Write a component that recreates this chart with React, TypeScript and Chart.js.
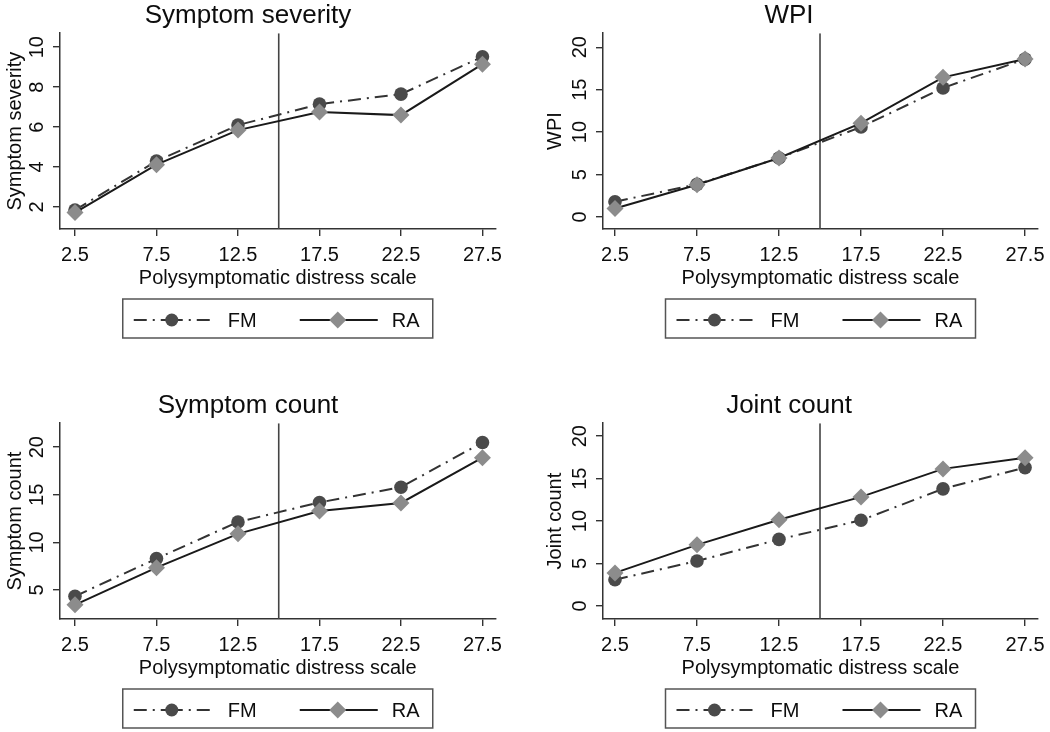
import { useEffect, useRef } from "react";
import { Chart, registerables } from "chart.js";

Chart.register(...registerables);

// x positions: midpoints of the polysymptomatic distress scale bins
const pdsMidpoints = [2.5, 7.5, 12.5, 17.5, 22.5, 27.5];
const cutoff = 15;
const groupLabels = ["FM", "RA"];

const severityFM = [1.85, 4.3, 6.1, 7.15, 7.65, 9.52];
const severityRA = [1.72, 4.12, 5.85, 6.75, 6.6, 9.15];
const wpiFM = [1.8, 3.85, 6.95, 10.6, 15.2, 18.6];
const wpiRA = [1.0, 3.8, 6.95, 11.05, 16.45, 18.6];
const symptomCountFM = [4.35, 8.3, 12.15, 14.2, 15.8, 20.5];
const symptomCountRA = [3.45, 7.35, 10.9, 13.3, 14.15, 18.9];
const jointCountFM = [3.1, 5.3, 7.85, 10.1, 13.8, 16.3];
const jointCountRA = [3.9, 7.2, 10.15, 12.85, 16.15, 17.45];

const severityTicks = [2, 4, 6, 8, 10];
const wpiTicks = [0, 5, 10, 15, 20];
const symptomCountTicks = [5, 10, 15, 20];
const jointCountTicks = [0, 5, 10, 15, 20];

const FONT = '"Liberation Sans", Arial, Helvetica, sans-serif';
const TEXT = "#0d0d0d";
const AXIS = "#333";
const FM_DASH = [13, 6, 2, 6];

const legendBox = {
    id: "legendBox",
    afterDraw(chart: any) {
        const { ctx, chartArea } = chart;
        const cx = (chartArea.left + chartArea.right) / 2;
        const top = chartArea.bottom + 70;
        const ly = top + 21;
        ctx.save();
        ctx.strokeStyle = "#555";
        ctx.lineWidth = 1.5;
        ctx.strokeRect(cx - 155, top, 310, 39);

        // FM entry: dash-dot line drawn outwards from the marker so it is symmetric
        ctx.strokeStyle = AXIS;
        ctx.lineWidth = 2;
        ctx.setLineDash(FM_DASH);
        ctx.lineDashOffset = 2;
        ctx.beginPath();
        ctx.moveTo(cx - 106, ly);
        ctx.lineTo(cx - 146, ly);
        ctx.stroke();
        ctx.beginPath();
        ctx.moveTo(cx - 106, ly);
        ctx.lineTo(cx - 66, ly);
        ctx.stroke();
        ctx.setLineDash([]);
        ctx.fillStyle = "#4a4a4a";
        ctx.beginPath();
        ctx.arc(cx - 106, ly, 6.5, 0, Math.PI * 2);
        ctx.fill();

        // RA entry
        ctx.strokeStyle = "#1a1a1a";
        ctx.beginPath();
        ctx.moveTo(cx + 22, ly);
        ctx.lineTo(cx + 100, ly);
        ctx.stroke();
        ctx.fillStyle = "#8c8c8c";
        ctx.beginPath();
        ctx.moveTo(cx + 60, ly - 8.5);
        ctx.lineTo(cx + 68.5, ly);
        ctx.lineTo(cx + 60, ly + 8.5);
        ctx.lineTo(cx + 51.5, ly);
        ctx.closePath();
        ctx.fill();

        ctx.fillStyle = TEXT;
        ctx.font = `20px ${FONT}`;
        ctx.textAlign = "left";
        ctx.textBaseline = "middle";
        ctx.fillText(groupLabels[0], cx - 50, ly + 1);
        ctx.fillText(groupLabels[1], cx + 114, ly + 1);
        ctx.restore();
    },
};

interface PanelProps {
    title: string;
    yTitle: string;
    fm: number[];
    ra: number[];
    yTicks: number[];
    yMin: number;
    yMax: number;
    xMin: number;
    xMax: number;
    left: number;
    top: number;
    width: number;
    padLeft: number;
    padRight: number;
    yAxisWidth: number;
}

const Panel = (p: PanelProps) => {
    const chartRef = useRef<HTMLCanvasElement>(null);

    useEffect(() => {
        if (!chartRef.current) return;
        const font = { family: FONT, size: 20 };
        const chart = new Chart(chartRef.current, {
            type: "line",
            data: {
                datasets: [
                    {
                        label: groupLabels[1],
                        data: pdsMidpoints.map((x, i) => ({ x, y: p.ra[i] })),
                        borderColor: "#1a1a1a",
                        borderWidth: 2,
                        pointStyle: "rectRot",
                        pointRadius: 8.5,
                        pointBackgroundColor: "#8c8c8c",
                        pointBorderColor: "#8c8c8c",
                        pointBorderWidth: 0,
                        order: 0,
                    },
                    {
                        label: groupLabels[0],
                        data: pdsMidpoints.map((x, i) => ({ x, y: p.fm[i] })),
                        borderColor: AXIS,
                        borderWidth: 2,
                        borderDash: FM_DASH,
                        pointStyle: "circle",
                        pointRadius: 6.8,
                        pointBackgroundColor: "#4a4a4a",
                        pointBorderColor: "#4a4a4a",
                        pointBorderWidth: 0,
                        order: 1,
                    },
                    {
                        label: "cutoff",
                        data: [
                            { x: cutoff, y: p.yMin },
                            { x: cutoff, y: p.yMax },
                        ],
                        borderColor: "#444",
                        borderWidth: 1.6,
                        pointRadius: 0,
                        order: 2,
                    },
                ],
            },
            options: {
                responsive: false,
                animation: false,
                devicePixelRatio: 1,
                layout: { padding: { left: p.padLeft, right: p.padRight, top: 0, bottom: 51 } },
                plugins: {
                    legend: { display: false },
                    tooltip: { enabled: false },
                    title: {
                        display: true,
                        text: p.title,
                        color: TEXT,
                        font: { family: FONT, size: 26, weight: "normal" },
                        padding: { top: 0, bottom: 2 },
                    },
                },
                scales: {
                    x: {
                        type: "linear",
                        min: p.xMin,
                        max: p.xMax,
                        afterBuildTicks: (s: any) => {
                            s.ticks = pdsMidpoints.map((v) => ({ value: v }));
                        },
                        ticks: {
                            font,
                            color: TEXT,
                            padding: 7,
                            minRotation: 0,
                            maxRotation: 0,
                            callback: (v: any) => String(v),
                        },
                        grid: { drawOnChartArea: false, tickLength: 7, color: AXIS, lineWidth: 1.4 },
                        border: { color: AXIS, width: 1.5 },
                        title: {
                            display: true,
                            text: "Polysymptomatic distress scale",
                            color: TEXT,
                            font,
                            padding: { top: 0, bottom: 1 },
                        },
                        afterFit: (s: any) => {
                            s.height = 62;
                            s.paddingLeft = 0;
                            s.paddingRight = 0;
                        },
                    },
                    y: {
                        min: p.yMin,
                        max: p.yMax,
                        afterBuildTicks: (s: any) => {
                            s.ticks = p.yTicks.map((v) => ({ value: v }));
                        },
                        ticks: {
                            font,
                            color: TEXT,
                            padding: 4,
                            minRotation: 90,
                            maxRotation: 90,
                            crossAlign: "center",
                            callback: (v: any) => String(v),
                        },
                        grid: { drawOnChartArea: false, tickLength: 7, color: AXIS, lineWidth: 1.4 },
                        border: { color: AXIS, width: 1.5 },
                        title: {
                            display: true,
                            text: p.yTitle,
                            color: TEXT,
                            font,
                            padding: { top: 3, bottom: 0 },
                        },
                        afterFit: (s: any) => {
                            s.width = p.yAxisWidth;
                            s.paddingTop = 0;
                            s.paddingBottom = 0;
                        },
                    },
                },
            },
            plugins: [legendBox],
        } as any);
        return () => {
            chart.destroy();
        };
    }, []);

    return (
        <canvas
            ref={chartRef}
            width={p.width}
            height={342}
            style={{ position: "absolute", left: p.left, top: p.top, width: p.width, height: 342 }}
        />
    );
};

const leftCol = { left: 0, width: 504, padLeft: 0, padRight: 8, yAxisWidth: 60, xMin: 1.58, xMax: 28.3 };
const rightCol = { left: 525, width: 525, padLeft: 15, padRight: 12, yAxisWidth: 63, xMin: 1.77, xMax: 28.29 };

const App = () => (
    <div style={{ position: "absolute", left: 0, top: 0, width: 1050, height: 732, background: "#fff" }}>
        <Panel {...leftCol} top={0} title="Symptom severity" yTitle="Symptom severity"
            fm={severityFM} ra={severityRA} yTicks={severityTicks} yMin={0.9} yMax={10.7} />
        <Panel {...rightCol} top={0} title="WPI" yTitle="WPI"
            fm={wpiFM} ra={wpiRA} yTicks={wpiTicks} yMin={-1.41} yMax={21.65} />
        <Panel {...leftCol} top={390} title="Symptom count" yTitle="Symptom count"
            fm={symptomCountFM} ra={symptomCountRA} yTicks={symptomCountTicks} yMin={1.96} yMax={22.52} />
        <Panel {...rightCol} top={390} title="Joint count" yTitle="Joint count"
            fm={jointCountFM} ra={jointCountRA} yTicks={jointCountTicks} yMin={-1.53} yMax={21.53} />
    </div>
);

export default App;
